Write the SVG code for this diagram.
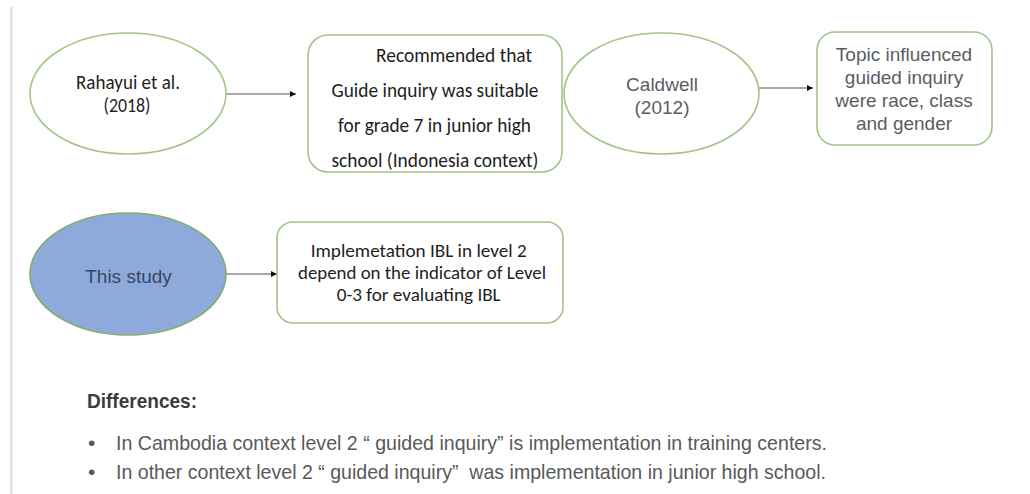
<svg xmlns="http://www.w3.org/2000/svg" width="1030" height="494" viewBox="0 0 1030 494">
<style>
.shape{fill:#ffffff;stroke:#a3c487;stroke-width:1.6}
.study{fill:#8eaadb;stroke:#86a96a;stroke-width:1.6}
.conn{stroke:#555555;stroke-width:1.1;fill:none}
.cal{font-family:"Carlito","Lato","Liberation Sans",sans-serif;font-size:20px;fill:#1e1e1e;text-anchor:middle}
.cal19{font-size:19px}
.ari{font-family:"Liberation Sans",Arial,sans-serif;font-size:19px;fill:#5a5d62;text-anchor:middle}
.body{font-family:"Liberation Sans",Arial,sans-serif;font-size:21px;fill:#595959;white-space:pre}
.head{font-family:"Liberation Sans",Arial,sans-serif;font-size:20px;font-weight:bold;fill:#3c3c3c}
</style>
<defs>
<marker id="arr" markerWidth="7" markerHeight="6" refX="6" refY="3" orient="auto" markerUnits="userSpaceOnUse">
<path d="M0,0 L6,3 L0,6 z" fill="#111111"/>
</marker>
</defs>
<rect width="1030" height="494" fill="#ffffff"/>
<rect x="10" y="7" width="2.6" height="487" fill="#dedeea"/>

<g id="connectors">
<path class="conn" d="M226,94 L296,94" marker-end="url(#arr)"/>
<path class="conn" d="M759,88 L813,88" marker-end="url(#arr)"/>
<path class="conn" d="M226,274 L277,274" marker-end="url(#arr)"/>
</g>

<g id="rahayui">
<ellipse class="shape" cx="128" cy="93.5" rx="98" ry="60.5"/>
<text class="cal" x="128" y="89" textLength="104" lengthAdjust="spacingAndGlyphs">Rahayui et al.</text>
<text class="cal" x="127" y="112" textLength="47" lengthAdjust="spacingAndGlyphs">(2018)</text>
</g>

<g id="recommended">
<rect class="shape" x="308" y="35" width="254" height="137" rx="20"/>
<text class="cal" x="454" y="62" textLength="156" lengthAdjust="spacingAndGlyphs">Recommended that</text>
<text class="cal" x="435" y="97" textLength="207" lengthAdjust="spacingAndGlyphs">Guide inquiry was suitable</text>
<text class="cal" x="434.5" y="132" textLength="193" lengthAdjust="spacingAndGlyphs">for grade 7 in junior high</text>
<text class="cal" x="435" y="167" textLength="207" lengthAdjust="spacingAndGlyphs">school (Indonesia context)</text>
</g>

<g id="caldwell">
<ellipse class="shape" cx="661.5" cy="93.5" rx="97.5" ry="60.5"/>
<text class="ari" x="662" y="91">Caldwell</text>
<text class="ari" x="662" y="114">(2012)</text>
</g>

<g id="topic">
<rect class="shape" x="817" y="32" width="175" height="113" rx="18"/>
<text class="ari" x="904" y="61">Topic influenced</text>
<text class="ari" x="904" y="84">guided inquiry</text>
<text class="ari" x="904" y="107">were race, class</text>
<text class="ari" x="904" y="130">and gender</text>
</g>

<g id="this-study">
<ellipse class="study" cx="128" cy="274" rx="98" ry="61"/>
<text class="ari" x="128.5" y="283" style="fill:#3a4562">This study</text>
</g>

<g id="implementation">
<rect class="shape" x="277" y="222" width="286" height="101" rx="16"/>
<text class="cal cal19" x="418.7" y="257" textLength="216" lengthAdjust="spacingAndGlyphs">Implemetation IBL in level 2</text>
<text class="cal cal19" x="422" y="278.5" textLength="248" lengthAdjust="spacingAndGlyphs">depend on the indicator of Level</text>
<text class="cal cal19" x="418.7" y="300.5" textLength="164" lengthAdjust="spacingAndGlyphs">0-3 for evaluating IBL</text>
</g>

<g id="differences">
<text class="head" x="87" y="408" textLength="110" lengthAdjust="spacingAndGlyphs">Differences:</text>
<text class="body" x="88" y="450">•</text>
<text class="body" x="116" y="450" textLength="711" lengthAdjust="spacingAndGlyphs">In Cambodia context level 2 “ guided inquiry” is implementation in training centers.</text>
<text class="body" x="88" y="479">•</text>
<text class="body" x="116" y="479" textLength="710" lengthAdjust="spacingAndGlyphs">In other context level 2 “ guided inquiry”  was implementation in junior high school.</text>
</g>
</svg>
